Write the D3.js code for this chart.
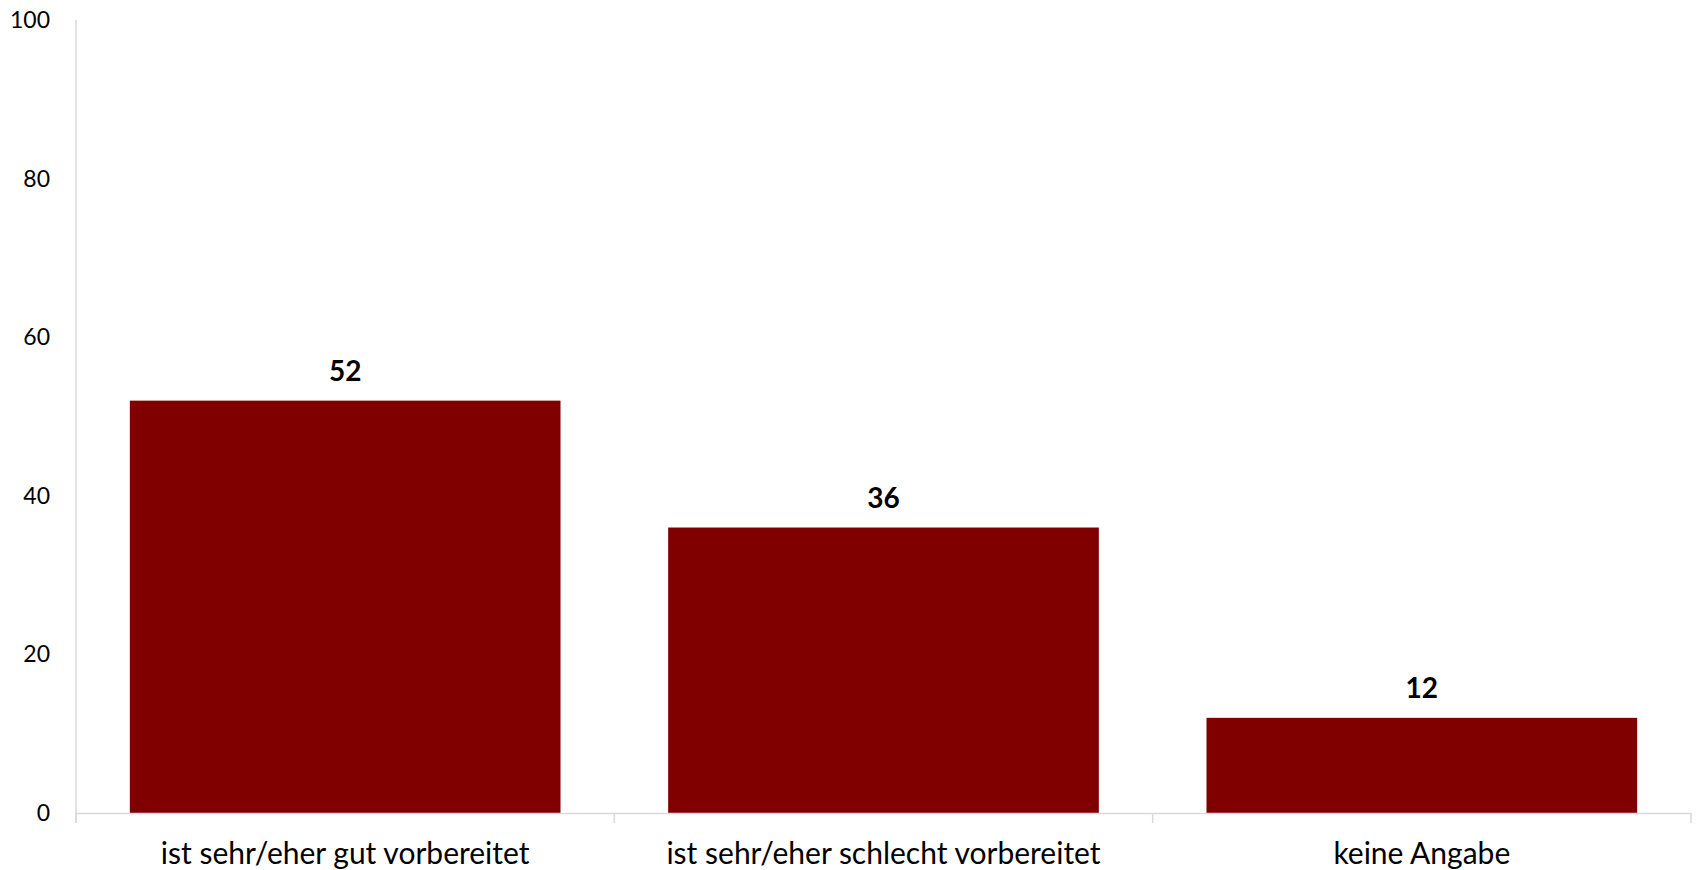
<!DOCTYPE html>
<html><head><meta charset="utf-8">
<script src="https://cdn.jsdelivr.net/npm/d3@7"></script>
<style>body{margin:0;background:#fff}svg{display:block}</style>
</head><body>
<svg id="c" width="1696" height="870"></svg>
<script>
const categories = ["ist sehr/eher gut vorbereitet", "ist sehr/eher schlecht vorbereitet", "keine Angabe"];
const values = [52, 36, 12];
const yTicks = [0, 20, 40, 60, 80, 100];

(function () {
const svg = d3.select("#c");
const mLeft = 76, mRight = 1691, mTop = 20, mBottom = 813;
const font = "Lato, 'Open Sans', sans-serif";
const axisColor = "#d9d9d9";

const x = d3.scaleBand().domain(categories).range([mLeft, mRight]).paddingInner(0.2).paddingOuter(0.1);
const y = d3.scaleLinear().domain([0, 100]).range([mBottom, mTop]);

// y axis line (no ticks)
svg.append("line").attr("x1", mLeft).attr("x2", mLeft).attr("y1", mTop).attr("y2", mBottom + 10)
  .attr("stroke", axisColor).attr("stroke-width", 1.5);

// y tick labels
svg.append("g").selectAll("text").data(yTicks).join("text")
  .attr("x", 50).attr("y", d => y(d)).attr("dy", "0.35em")
  .attr("text-anchor", "end").attr("font-family", font).attr("font-size", 23).attr("fill", "#000")
  .text(d => d);

// bars
svg.append("g").selectAll("rect").data(values).join("rect")
  .attr("x", (d, i) => x(categories[i])).attr("width", x.bandwidth())
  .attr("y", d => y(d)).attr("height", d => y(0) - y(d))
  .attr("fill", "#800000");

// x axis
const xAxis = d3.axisBottom(x).tickSize(0).tickFormat(d => d);
const gx = svg.append("g").attr("transform", `translate(0,${mBottom})`).call(xAxis);
gx.select(".domain").attr("stroke", axisColor).attr("stroke-width", 1.5);
gx.selectAll("text").attr("font-family", font).attr("font-size", 30).attr("fill", "#000").attr("dy", null).attr("y", 51);
// category boundary ticks
const bounds = categories.map(c => x(c) - x.step() * x.paddingInner() / 2);
bounds[0] = mLeft;
bounds.push(mRight);
svg.append("g").selectAll("line").data(bounds).join("line")
  .attr("x1", d => d).attr("x2", d => d).attr("y1", mBottom).attr("y2", mBottom + 10)
  .attr("stroke", axisColor).attr("stroke-width", 1.5);

// value labels
svg.append("g").selectAll("text").data(values).join("text")
  .attr("x", (d, i) => x(categories[i]) + x.bandwidth() / 2).attr("y", d => y(d) - 20)
  .attr("text-anchor", "middle").attr("font-family", font).attr("font-weight", "bold")
  .attr("font-size", 28).attr("fill", "#000").text(d => d);
})();
</script>
</body></html>
